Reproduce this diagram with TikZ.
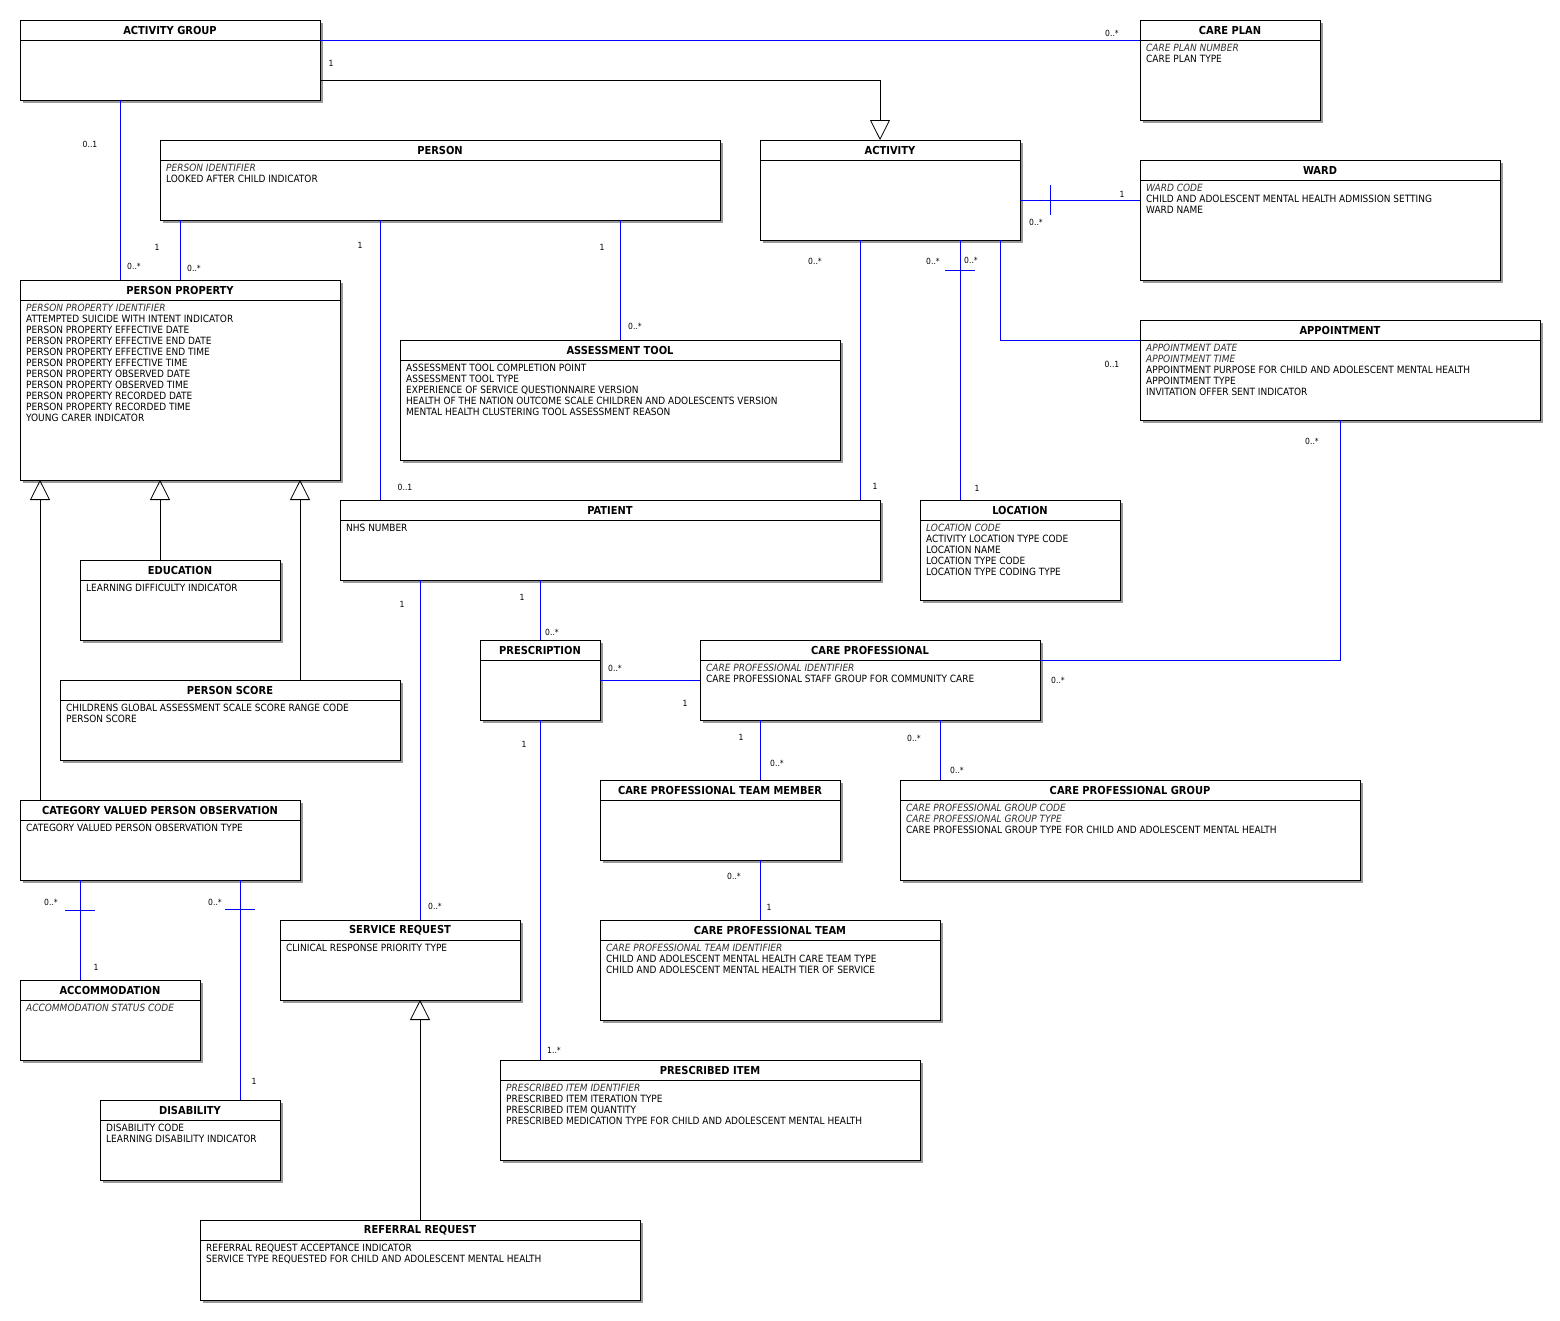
\documentclass[tikz,border=0pt]{standalone}
\usepackage{fontspec}
\setmainfont{DejaVu Sans Condensed}
\usetikzlibrary{arrows.meta,shadows}

\tikzset{
  classbox/.style={draw, line width=0.8pt, fill=white, rectangle, inner sep=0pt, outer sep=0pt,
    anchor=north west, drop shadow={shadow xshift=3pt, shadow yshift=-3pt, fill=black!40, opacity=1}},
  classtitle/.style={font=\fontsize{11}{13}\selectfont\bfseries, inner sep=0pt},
  classattr/.style={font=\fontsize{10}{11}\selectfont, align=left, anchor=north west, inner sep=0pt},
  key/.style={font=\itshape, text=black!80},
  assoc/.style={draw=blue, line width=0.8pt},
  genline/.style={draw=black, line width=0.8pt, -{Triangle[length=20pt, width=20pt, fill=white, line width=0.8pt]}},
  multlabel/.style={font=\fontsize{8.5}{10}\selectfont, inner sep=0pt}
}

% name, left, top, width, height, title, attributes
\newcommand{\umlclass}[7]{%
  \node (#1) [classbox, minimum width=#4pt, minimum height=#5pt] at (#2,#3) {};
  \draw[line width=0.8pt] ([yshift=-20pt]#1.north west) -- ([yshift=-20pt]#1.north east);
  \node (#1-title) [classtitle] at ([yshift=-10pt]#1.north) {#6};
  \node (#1-attr) [classattr] at ([xshift=6pt, yshift=-23.5pt]#1.north west) {#7};
}

\begin{document}
\begin{tikzpicture}[x=1pt, y=-1pt]
    \useasboundingbox (0,0) rectangle (1560,1320);

    % Draw classes
    \umlclass{actgroup}{20}{20}{300}{80}{ACTIVITY GROUP}{}
    \umlclass{careplan}{1140}{20}{180}{100}{CARE PLAN}{{\itshape\color{black!80}CARE PLAN NUMBER}\\CARE PLAN TYPE}
    \umlclass{person}{160}{140}{560}{80}{PERSON}{{\itshape\color{black!80}PERSON IDENTIFIER}\\LOOKED AFTER CHILD INDICATOR}
    \umlclass{activity}{760}{140}{260}{100}{ACTIVITY}{}
    \umlclass{ward}{1140}{160}{360}{120}{WARD}{{\itshape\color{black!80}WARD CODE}\\CHILD AND ADOLESCENT MENTAL HEALTH ADMISSION SETTING\\WARD NAME}
    \umlclass{personprop}{20}{280}{320}{200}{PERSON PROPERTY}{{\itshape\color{black!80}PERSON PROPERTY IDENTIFIER}\\ATTEMPTED SUICIDE WITH INTENT INDICATOR\\PERSON PROPERTY EFFECTIVE DATE\\PERSON PROPERTY EFFECTIVE END DATE\\PERSON PROPERTY EFFECTIVE END TIME\\PERSON PROPERTY EFFECTIVE TIME\\PERSON PROPERTY OBSERVED DATE\\PERSON PROPERTY OBSERVED TIME\\PERSON PROPERTY RECORDED DATE\\PERSON PROPERTY RECORDED TIME\\YOUNG CARER INDICATOR}
    \umlclass{appointment}{1140}{320}{400}{100}{APPOINTMENT}{{\itshape\color{black!80}APPOINTMENT DATE}\\{\itshape\color{black!80}APPOINTMENT TIME}\\APPOINTMENT PURPOSE FOR CHILD AND ADOLESCENT MENTAL HEALTH\\APPOINTMENT TYPE\\INVITATION OFFER SENT INDICATOR}
    \umlclass{assesstool}{400}{340}{440}{120}{ASSESSMENT TOOL}{ASSESSMENT TOOL COMPLETION POINT\\ASSESSMENT TOOL TYPE\\EXPERIENCE OF SERVICE QUESTIONNAIRE VERSION\\HEALTH OF THE NATION OUTCOME SCALE CHILDREN AND ADOLESCENTS VERSION\\MENTAL HEALTH CLUSTERING TOOL ASSESSMENT REASON}
    \umlclass{patient}{340}{500}{540}{80}{PATIENT}{NHS NUMBER}
    \umlclass{location}{920}{500}{200}{100}{LOCATION}{{\itshape\color{black!80}LOCATION CODE}\\ACTIVITY LOCATION TYPE CODE\\LOCATION NAME\\LOCATION TYPE CODE\\LOCATION TYPE CODING TYPE}
    \umlclass{education}{80}{560}{200}{80}{EDUCATION}{LEARNING DIFFICULTY INDICATOR}
    \umlclass{prescription}{480}{640}{120}{80}{PRESCRIPTION}{}
    \umlclass{careprof}{700}{640}{340}{80}{CARE PROFESSIONAL}{{\itshape\color{black!80}CARE PROFESSIONAL IDENTIFIER}\\CARE PROFESSIONAL STAFF GROUP FOR COMMUNITY CARE}
    \umlclass{personscore}{60}{680}{340}{80}{PERSON SCORE}{CHILDRENS GLOBAL ASSESSMENT SCALE SCORE RANGE CODE\\PERSON SCORE}
    \umlclass{teammember}{600}{780}{240}{80}{CARE PROFESSIONAL TEAM MEMBER}{}
    \umlclass{profgroup}{900}{780}{460}{100}{CARE PROFESSIONAL GROUP}{{\itshape\color{black!80}CARE PROFESSIONAL GROUP CODE}\\{\itshape\color{black!80}CARE PROFESSIONAL GROUP TYPE}\\CARE PROFESSIONAL GROUP TYPE FOR CHILD AND ADOLESCENT MENTAL HEALTH}
    \umlclass{catobs}{20}{800}{280}{80}{CATEGORY VALUED PERSON OBSERVATION}{CATEGORY VALUED PERSON OBSERVATION TYPE}
    \umlclass{servicereq}{280}{920}{240}{80}{SERVICE REQUEST}{CLINICAL RESPONSE PRIORITY TYPE}
    \umlclass{profteam}{600}{920}{340}{100}{CARE PROFESSIONAL TEAM}{{\itshape\color{black!80}CARE PROFESSIONAL TEAM IDENTIFIER}\\CHILD AND ADOLESCENT MENTAL HEALTH CARE TEAM TYPE\\CHILD AND ADOLESCENT MENTAL HEALTH TIER OF SERVICE}
    \umlclass{accommodation}{20}{980}{180}{80}{ACCOMMODATION}{{\itshape\color{black!80}ACCOMMODATION STATUS CODE}}
    \umlclass{prescitem}{500}{1060}{420}{100}{PRESCRIBED ITEM}{{\itshape\color{black!80}PRESCRIBED ITEM IDENTIFIER}\\PRESCRIBED ITEM ITERATION TYPE\\PRESCRIBED ITEM QUANTITY\\PRESCRIBED MEDICATION TYPE FOR CHILD AND ADOLESCENT MENTAL HEALTH}
    \umlclass{disability}{100}{1100}{180}{80}{DISABILITY}{DISABILITY CODE\\LEARNING DISABILITY INDICATOR}
    \umlclass{referral}{200}{1220}{440}{80}{REFERRAL REQUEST}{REFERRAL REQUEST ACCEPTANCE INDICATOR\\SERVICE TYPE REQUESTED FOR CHILD AND ADOLESCENT MENTAL HEALTH}

    % Draw associations
    \draw[assoc] ([yshift=20pt]actgroup.east) -- ([yshift=20pt]actgroup.east -| careplan.west);
    \draw[assoc] ([xshift=-50pt]actgroup.south) -- ([xshift=-50pt]actgroup.south |- personprop.north);
    \draw[assoc] ([xshift=-260pt]person.south) -- ([xshift=-260pt]person.south |- personprop.north);
    \draw[assoc] ([xshift=-60pt]person.south) -- ([xshift=-60pt]person.south |- patient.north);
    \draw[assoc] (person.south -| assesstool.north) -- (assesstool.north);
    \draw[assoc] ([yshift=-10pt]activity.east) -- ([yshift=-10pt]activity.east -| ward.west);
    \draw[assoc] ([xshift=30pt, yshift=5pt]activity.east) -- ([xshift=30pt, yshift=-25pt]activity.east);
    \draw[assoc] ([xshift=-30pt]activity.south) -- ([xshift=-30pt]activity.south |- patient.north);
    \draw[assoc] ([xshift=70pt]activity.south) -- ([xshift=70pt]activity.south |- location.north);
    \draw[assoc] ([xshift=55pt, yshift=-30pt]activity.south) -- ([xshift=85pt, yshift=-30pt]activity.south);
    \draw[assoc] ([xshift=110pt]activity.south) |- ([yshift=30pt]appointment.west);
    \draw[assoc] (appointment.south) |- ([yshift=20pt]careprof.east);
    \draw[assoc] (patient.south -| prescription.north) -- (prescription.north);
    \draw[assoc] ([xshift=20pt]servicereq.north |- patient.south) -- ([xshift=20pt]servicereq.north);
    \draw[assoc] (prescription.east) -- (careprof.west);
    \draw[assoc] (prescription.south) -- (prescription.south |- prescitem.north);
    \draw[assoc] ([xshift=40pt]teammember.north |- careprof.south) -- ([xshift=40pt]teammember.north);
    \draw[assoc] ([xshift=70pt]careprof.south) -- ([xshift=70pt]careprof.south |- profgroup.north);
    \draw[assoc] ([xshift=40pt]teammember.south) -- ([xshift=40pt]teammember.south |- profteam.north);
    \draw[assoc] ([xshift=-80pt]catobs.south) -- ([xshift=-80pt]catobs.south |- accommodation.north);
    \draw[assoc] ([xshift=-95pt, yshift=-30pt]catobs.south) -- ([xshift=-65pt, yshift=-30pt]catobs.south);
    \draw[assoc] ([xshift=80pt]catobs.south) -- ([xshift=80pt]catobs.south |- disability.north);
    \draw[assoc] ([xshift=65pt, yshift=-29pt]catobs.south) -- ([xshift=95pt, yshift=-29pt]catobs.south);

    % Draw generalisations
    \draw[genline] ([yshift=-20pt]actgroup.east) -| ([xshift=-10pt]activity.north);
    \draw[genline] ([xshift=-20pt]education.north) -- ([xshift=-20pt]education.north |- personprop.south);
    \draw[genline] ([xshift=70pt]personscore.north) -- ([xshift=70pt]personscore.north |- personprop.south);
    \draw[genline] ([xshift=-120pt]catobs.north) -- ([xshift=-120pt]catobs.north |- personprop.south);
    \draw[genline] (referral.north) -- (referral.north |- servicereq.south);

    % Draw multiplicities
    \node (m1) [multlabel] at (1112,33) {0..*};
    \node (m2) [multlabel] at (331,63) {1};
    \node (m3) [multlabel] at (90,144) {0..1};
    \node (m4) [multlabel] at (134,266) {0..*};
    \node (m5) [multlabel] at (157,247) {1};
    \node (m6) [multlabel] at (194,268) {0..*};
    \node (m7) [multlabel] at (360,245) {1};
    \node (m8) [multlabel] at (405,487) {0..1};
    \node (m9) [multlabel] at (602,247) {1};
    \node (m10) [multlabel] at (635,326) {0..*};
    \node (m11) [multlabel] at (1122,194) {1};
    \node (m12) [multlabel] at (1036,222) {0..*};
    \node (m13) [multlabel] at (815,261) {0..*};
    \node (m14) [multlabel] at (933,261) {0..*};
    \node (m15) [multlabel] at (971,260) {0..*};
    \node (m16) [multlabel] at (1112,364) {0..1};
    \node (m17) [multlabel] at (1312,441) {0..*};
    \node (m18) [multlabel] at (875,486) {1};
    \node (m19) [multlabel] at (977,488) {1};
    \node (m20) [multlabel] at (402,604) {1};
    \node (m21) [multlabel] at (522,597) {1};
    \node (m22) [multlabel] at (552,632) {0..*};
    \node (m23) [multlabel] at (615,668) {0..*};
    \node (m24) [multlabel] at (685,703) {1};
    \node (m25) [multlabel] at (524,744) {1};
    \node (m26) [multlabel] at (1058,680) {0..*};
    \node (m27) [multlabel] at (741,737) {1};
    \node (m28) [multlabel] at (777,763) {0..*};
    \node (m29) [multlabel] at (914,738) {0..*};
    \node (m30) [multlabel] at (957,770) {0..*};
    \node (m31) [multlabel] at (734,876) {0..*};
    \node (m32) [multlabel] at (769,907) {1};
    \node (m33) [multlabel] at (51,902) {0..*};
    \node (m34) [multlabel] at (96,967) {1};
    \node (m35) [multlabel] at (215,902) {0..*};
    \node (m36) [multlabel] at (254,1081) {1};
    \node (m37) [multlabel] at (435,906) {0..*};
    \node (m38) [multlabel] at (554,1050) {1..*};
\end{tikzpicture}
\end{document}
